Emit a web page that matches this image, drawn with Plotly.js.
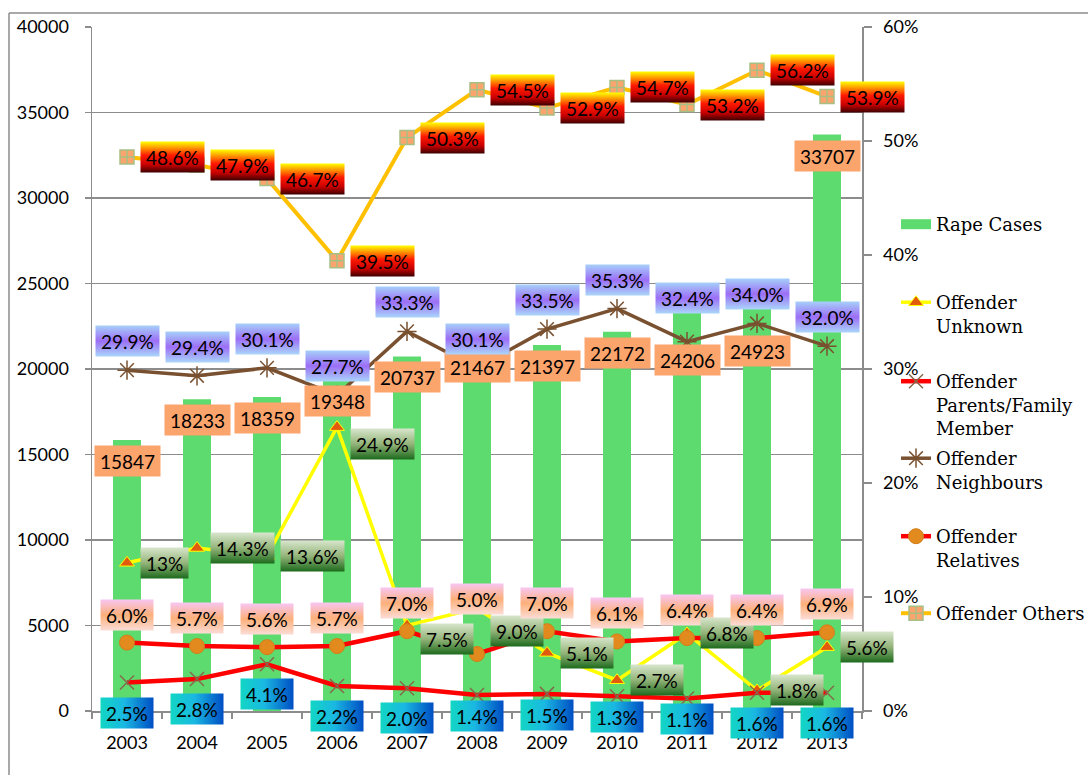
<!DOCTYPE html>
<html>
<head>
<meta charset="utf-8">
<script src="https://cdn.plot.ly/plotly-3.0.1.min.js"></script>
<style>
  html, body { margin: 0; padding: 0; background: #fff; }
  #chart { width: 1088px; height: 775px; }
</style>
</head>
<body>
<svg width="0" height="0" style="position:absolute">
  <defs>
    <linearGradient id="gOthers" x1="0" y1="0" x2="0" y2="1">
      <stop offset="0" stop-color="#ffff00"/>
      <stop offset="0.45" stop-color="#ff1a00"/>
      <stop offset="0.75" stop-color="#c80000"/>
      <stop offset="1" stop-color="#3c0000"/>
    </linearGradient>
    <linearGradient id="gNeigh" x1="0" y1="0" x2="0" y2="1">
      <stop offset="0" stop-color="#a6d0fa"/>
      <stop offset="0.5" stop-color="#9c6ef6"/>
      <stop offset="1" stop-color="#aad6fa"/>
    </linearGradient>
    <linearGradient id="gRel" x1="0" y1="0" x2="0" y2="1">
      <stop offset="0" stop-color="#f8c6f2"/>
      <stop offset="0.5" stop-color="#fcb07a"/>
      <stop offset="1" stop-color="#fcdcd6"/>
    </linearGradient>
    <linearGradient id="gUnk" x1="0" y1="0" x2="0" y2="1">
      <stop offset="0" stop-color="#d8e6cc"/>
      <stop offset="0.5" stop-color="#94b47a"/>
      <stop offset="1" stop-color="#1c6a1c"/>
    </linearGradient>
    <linearGradient id="gPar" x1="0" y1="0" x2="1" y2="0">
      <stop offset="0" stop-color="#12d6c4"/>
      <stop offset="0.45" stop-color="#1ab8e2"/>
      <stop offset="1" stop-color="#004ec4"/>
    </linearGradient>
  </defs>
</svg>
<div id="chart"></div>
<script>
// ---------------- DATA ----------------
var categories = ['2003','2004','2005','2006','2007','2008','2009','2010','2011','2012','2013'];
var rapeCases = [15847, 18233, 18359, 19348, 20737, 21467, 21397, 22172, 24206, 24923, 33707];
var offUnknown = [13, 14.3, 13.6, 24.9, 7.5, 9.0, 5.1, 2.7, 6.8, 1.8, 5.6];
var offUnknownText = ['13%','14.3%','13.6%','24.9%','7.5%','9.0%','5.1%','2.7%','6.8%','1.8%','5.6%'];
var offParents = [2.5, 2.8, 4.1, 2.2, 2.0, 1.4, 1.5, 1.3, 1.1, 1.6, 1.6];
var offNeighbours = [29.9, 29.4, 30.1, 27.7, 33.3, 30.1, 33.5, 35.3, 32.4, 34.0, 32.0];
var offRelatives = [6.0, 5.7, 5.6, 5.7, 7.0, 5.0, 7.0, 6.1, 6.4, 6.4, 6.9];
var offOthers = [48.6, 47.9, 46.7, 39.5, 50.3, 54.5, 52.9, 54.7, 53.2, 56.2, 53.9];
var leftTicks = [0, 5000, 10000, 15000, 20000, 25000, 30000, 35000, 40000];
var rightTicks = [0, 10, 20, 30, 40, 50, 60];

// label nudges (pixels) for labels moved by hand in the original
var barLabelNudge = [0,0,0,0,0,-2,0,0,-42,-45,0];
var unkLabelNudge = [0,0,0,-17,-13,-23,0,0,0,0,0];
var relLabelNudge = [0,0,0,0,0,27,0,0,0,0,0];
var parLabelNudge = [0,0,0,0,0,9,9,9,9,0,0];
var neiLabelNudge = [0,0,0,0,0,0,0,0,15,0,0];

var GRID = '#8c8c8c';
var TICKFONT = {family: 'Lato, sans-serif', size: 18, color: '#000'};
var LEGFONT = {family: '"DejaVu Serif", serif', size: 18, color: '#000'};

var traces = [
  {type: 'bar', x: categories, y: rapeCases, name: 'Rape Cases', yaxis: 'y',
   marker: {color: '#5edb6e'}, width: 0.4, showlegend: false, hoverinfo: 'skip'},
  {type: 'scatter', mode: 'lines', x: [null], y: [null], name: 'Rape Cases', yaxis: 'y2',
   line: {color: '#5edb6e', width: 12}, legend: 'legend'},
  {type: 'scatter', mode: 'lines+markers', x: categories, y: offUnknown, yaxis: 'y2',
   name: 'Offender<br>Unknown', legend: 'legend2',
   line: {color: '#ffff00', width: 3.5},
   marker: {symbol: 'triangle-up', size: 13, color: '#e25a0e', line: {color: '#ffff00', width: 1}}},
  {type: 'scatter', mode: 'lines+markers', x: categories, y: offParents, yaxis: 'y2',
   name: 'Offender<br>Parents/Family<br>Member', legend: 'legend3',
   line: {color: '#ff0000', width: 4.5},
   marker: {symbol: 'x-thin', size: 14, color: '#84694c', line: {color: '#84694c', width: 1.5}}},
  {type: 'scatter', mode: 'lines+markers', x: categories, y: offNeighbours, yaxis: 'y2',
   name: 'Offender<br>Neighbours', legend: 'legend4',
   line: {color: '#795130', width: 3.5},
   marker: {symbol: 'asterisk', size: 16, color: '#795130', line: {color: '#795130', width: 1.5}}},
  {type: 'scatter', mode: 'lines+markers', x: categories, y: offRelatives, yaxis: 'y2',
   name: 'Offender<br>Relatives', legend: 'legend5',
   line: {color: '#ff0000', width: 4.5},
   marker: {symbol: 'circle', size: 15, color: '#e28a1e', line: {color: '#d27e18', width: 1}}},
  {type: 'scatter', mode: 'lines+markers', x: categories, y: offOthers, yaxis: 'y2',
   name: 'Offender Others', legend: 'legend6',
   line: {color: '#ffc000', width: 4},
   marker: {symbol: 'square-cross', size: 14, color: '#fba46e', line: {color: '#a8bf84', width: 1.5}}}
];

var annotations = [];
var annGrad = [];
var LBLFONT = {family: 'Lato, sans-serif', size: 19, color: '#000'};
function addLabel(i, y, yref, text, opts, grad, bg) {
  var a = {x: i, y: y, xref: 'x', yref: yref, text: text, showarrow: false,
    font: LBLFONT, bgcolor: bg, borderpad: 5, height: 20,
    xanchor: opts.xanchor || 'center', yanchor: 'middle',
    xshift: opts.xshift || 0, yshift: opts.yshift || 0};
  annotations.push(a);
  annGrad.push(grad);
}
categories.forEach(function (c, i) {
  addLabel(i, rapeCases[i], 'y', String(rapeCases[i]), {yshift: -21 + barLabelNudge[i]}, null, '#fba46c');
  addLabel(i, offOthers[i], 'y2', offOthers[i].toFixed(1) + '%', {xanchor: 'left', xshift: 13}, 'gOthers', '#f03000');
  addLabel(i, offNeighbours[i], 'y2', offNeighbours[i].toFixed(1) + '%', {yshift: 29 + neiLabelNudge[i]}, 'gNeigh', '#a890f8');
  addLabel(i, offRelatives[i], 'y2', offRelatives[i].toFixed(1) + '%', {yshift: 28 + relLabelNudge[i]}, 'gRel', '#fcc0a0');
  addLabel(i, offUnknown[i], 'y2', offUnknownText[i], {xanchor: 'left', xshift: 13, yshift: unkLabelNudge[i]}, 'gUnk', '#80a860');
  addLabel(i, offParents[i], 'y2', offParents[i].toFixed(1) + '%', {yshift: -30 + parLabelNudge[i]}, 'gPar', '#18a0d8');
});

// plot area: x 92..862, y 27..711
function py(pix) { return (711 - pix) / 684; }
function px(pix) { return (pix - 92) / 770; }
function legendAt(firstLineY) {
  return {xref: 'container', yref: 'container', x: 896 / 1088, xanchor: 'left',
    y: 1 - (firstLineY - 17) / 775, yanchor: 'top',
    bgcolor: 'rgba(0,0,0,0)', font: LEGFONT, valign: 'top', borderwidth: 0};
}

var layout = {
  width: 1088, height: 775,
  margin: {l: 92, r: 226, t: 27, b: 64, pad: 0, autoexpand: false},
  paper_bgcolor: '#fff', plot_bgcolor: '#fff',
  bargap: 0.6,
  xaxis: {type: 'category', tickfont: TICKFONT, showline: true, linecolor: GRID, linewidth: 1.5,
    ticks: 'outside', tickson: 'boundaries', ticklen: 6, tickcolor: GRID, tickwidth: 1.5,
    showgrid: false, ticklabelstandoff: 15, range: [-0.5, 10.5], fixedrange: true, automargin: false},
  yaxis: {range: [0, 40000], tickvals: leftTicks, ticktext: leftTicks.map(String), tickfont: TICKFONT,
    showline: true, linecolor: GRID, linewidth: 1.5, showgrid: true, gridcolor: GRID, gridwidth: 1.3,
    ticks: 'outside', ticklen: 6, tickcolor: GRID, tickwidth: 1.5, ticklabelstandoff: 12,
    zeroline: false, fixedrange: true, automargin: false},
  yaxis2: {overlaying: 'y', side: 'right', range: [0, 60], tickvals: rightTicks,
    ticktext: rightTicks.map(function (v) { return v + '%'; }), tickfont: TICKFONT,
    showline: true, linecolor: GRID, linewidth: 1.5, showgrid: false, zeroline: false,
    ticks: 'outside', ticklen: 8, tickcolor: GRID, tickwidth: 1.5, ticklabelstandoff: 8,
    fixedrange: true, automargin: false},
  legend: legendAt(223),
  legend2: legendAt(301),
  legend3: legendAt(380),
  legend4: legendAt(457),
  legend5: legendAt(535),
  legend6: legendAt(612),
  annotations: annotations,
  shapes: [
    {type: 'line', xref: 'paper', yref: 'paper', x0: px(9), x1: px(9), y0: py(13), y1: py(780),
     line: {color: GRID, width: 1.5}},
    {type: 'line', xref: 'paper', yref: 'paper', x0: px(9), x1: px(1090), y0: py(13), y1: py(13),
     line: {color: GRID, width: 1.5}}
  ],
  showlegend: true
};

Plotly.newPlot('chart', traces, layout, {displayModeBar: false, staticPlot: true}).then(function (gd) {
  var groups = gd.querySelectorAll('g.annotation');
  groups.forEach(function (g) {
    var idx = +g.getAttribute('data-index');
    var grad = annGrad[idx];
    if (!grad) return;
    var r = g.querySelector('rect.bg');
    if (r) { r.style.fill = 'url(#' + grad + ')'; r.style.fillOpacity = 1; }
  });
});
</script>
</body>
</html>
